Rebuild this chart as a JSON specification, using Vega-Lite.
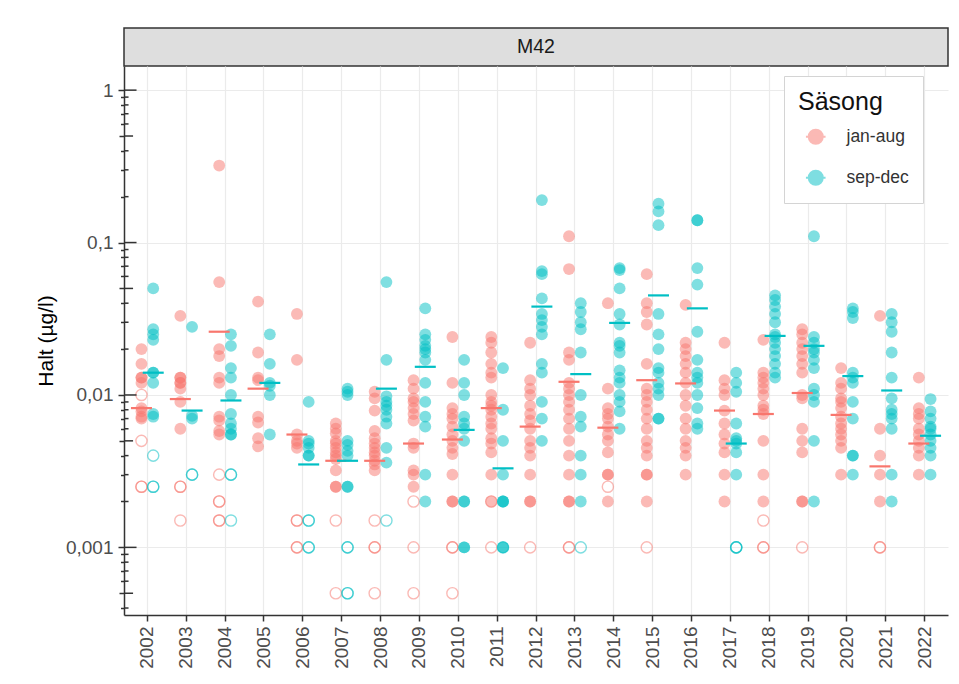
{
"$schema": "https://vega.github.io/schema/vega-lite/v6.json",
"padding": {"left": 35, "top": 27, "right": 5, "bottom": 5},
"background": "white",
"bounds": "flush",
"spacing": 0,
"config": {"font": "Liberation Sans", "view": {"stroke": null}},
"datasets": {
"lt": [
{"t":0.0004,"k":"minor"},{"t":0.0006,"k":"minor"},{"t":0.0007,"k":"minor"},{"t":0.0008,"k":"minor"},{"t":0.0009,"k":"minor"},
{"t":0.002,"k":"minor"},{"t":0.003,"k":"minor"},{"t":0.004,"k":"minor"},{"t":0.006,"k":"minor"},{"t":0.007,"k":"minor"},{"t":0.008,"k":"minor"},{"t":0.009,"k":"minor"},
{"t":0.02,"k":"minor"},{"t":0.03,"k":"minor"},{"t":0.04,"k":"minor"},{"t":0.06,"k":"minor"},{"t":0.07,"k":"minor"},{"t":0.08,"k":"minor"},{"t":0.09,"k":"minor"},
{"t":0.2,"k":"minor"},{"t":0.3,"k":"minor"},{"t":0.4,"k":"minor"},{"t":0.6,"k":"minor"},{"t":0.7,"k":"minor"},{"t":0.8,"k":"minor"},{"t":0.9,"k":"minor"},
{"t":0.0005,"k":"mid"},{"t":0.005,"k":"mid"},{"t":0.05,"k":"mid"},{"t":0.5,"k":"mid"},
{"t":0.001,"k":"major"},{"t":0.01,"k":"major"},{"t":0.1,"k":"major"},{"t":1,"k":"major"}
],
"pts": [
{"ar":2002,"s":"jan-aug","v":0.02,"u":0},{"ar":2002,"s":"jan-aug","v":0.016,"u":0},{"ar":2002,"s":"jan-aug","v":0.013,"u":0},{"ar":2002,"s":"jan-aug","v":0.013,"u":0},{"ar":2002,"s":"jan-aug","v":0.012,"u":0},{"ar":2002,"s":"jan-aug","v":0.0082,"u":0},{"ar":2002,"s":"jan-aug","v":0.0078,"u":0},{"ar":2002,"s":"jan-aug","v":0.0072,"u":0},{"ar":2002,"s":"jan-aug","v":0.007,"u":0},
{"ar":2002,"s":"jan-aug","v":0.01,"u":1},{"ar":2002,"s":"jan-aug","v":0.005,"u":1},{"ar":2002,"s":"jan-aug","v":0.0025,"u":1},{"ar":2002,"s":"jan-aug","v":0.0025,"u":1},
{"ar":2002,"s":"sep-dec","v":0.05,"u":0},{"ar":2002,"s":"sep-dec","v":0.027,"u":0},{"ar":2002,"s":"sep-dec","v":0.025,"u":0},{"ar":2002,"s":"sep-dec","v":0.023,"u":0},{"ar":2002,"s":"sep-dec","v":0.014,"u":0},{"ar":2002,"s":"sep-dec","v":0.014,"u":0},{"ar":2002,"s":"sep-dec","v":0.012,"u":0},{"ar":2002,"s":"sep-dec","v":0.0075,"u":0},{"ar":2002,"s":"sep-dec","v":0.0072,"u":0},
{"ar":2002,"s":"sep-dec","v":0.004,"u":1},{"ar":2002,"s":"sep-dec","v":0.0025,"u":1},{"ar":2002,"s":"sep-dec","v":0.0025,"u":1},
{"ar":2003,"s":"jan-aug","v":0.033,"u":0},{"ar":2003,"s":"jan-aug","v":0.013,"u":0},{"ar":2003,"s":"jan-aug","v":0.013,"u":0},{"ar":2003,"s":"jan-aug","v":0.012,"u":0},{"ar":2003,"s":"jan-aug","v":0.012,"u":0},{"ar":2003,"s":"jan-aug","v":0.011,"u":0},{"ar":2003,"s":"jan-aug","v":0.009,"u":0},{"ar":2003,"s":"jan-aug","v":0.006,"u":0},
{"ar":2003,"s":"jan-aug","v":0.0025,"u":1},{"ar":2003,"s":"jan-aug","v":0.0025,"u":1},{"ar":2003,"s":"jan-aug","v":0.0015,"u":1},
{"ar":2003,"s":"sep-dec","v":0.028,"u":0},{"ar":2003,"s":"sep-dec","v":0.0073,"u":0},{"ar":2003,"s":"sep-dec","v":0.007,"u":0},
{"ar":2003,"s":"sep-dec","v":0.003,"u":1},{"ar":2003,"s":"sep-dec","v":0.003,"u":1},
{"ar":2004,"s":"jan-aug","v":0.32,"u":0},{"ar":2004,"s":"jan-aug","v":0.055,"u":0},{"ar":2004,"s":"jan-aug","v":0.02,"u":0},{"ar":2004,"s":"jan-aug","v":0.018,"u":0},{"ar":2004,"s":"jan-aug","v":0.013,"u":0},{"ar":2004,"s":"jan-aug","v":0.012,"u":0},{"ar":2004,"s":"jan-aug","v":0.0072,"u":0},{"ar":2004,"s":"jan-aug","v":0.0068,"u":0},{"ar":2004,"s":"jan-aug","v":0.0058,"u":0},{"ar":2004,"s":"jan-aug","v":0.0055,"u":0},
{"ar":2004,"s":"jan-aug","v":0.003,"u":1},{"ar":2004,"s":"jan-aug","v":0.002,"u":1},{"ar":2004,"s":"jan-aug","v":0.002,"u":1},{"ar":2004,"s":"jan-aug","v":0.0015,"u":1},{"ar":2004,"s":"jan-aug","v":0.0015,"u":1},
{"ar":2004,"s":"sep-dec","v":0.025,"u":0},{"ar":2004,"s":"sep-dec","v":0.021,"u":0},{"ar":2004,"s":"sep-dec","v":0.015,"u":0},{"ar":2004,"s":"sep-dec","v":0.013,"u":0},{"ar":2004,"s":"sep-dec","v":0.01,"u":0},{"ar":2004,"s":"sep-dec","v":0.0075,"u":0},{"ar":2004,"s":"sep-dec","v":0.0065,"u":0},{"ar":2004,"s":"sep-dec","v":0.006,"u":0},{"ar":2004,"s":"sep-dec","v":0.0055,"u":0},{"ar":2004,"s":"sep-dec","v":0.0055,"u":0},
{"ar":2004,"s":"sep-dec","v":0.003,"u":1},{"ar":2004,"s":"sep-dec","v":0.003,"u":1},{"ar":2004,"s":"sep-dec","v":0.0015,"u":1},
{"ar":2005,"s":"jan-aug","v":0.041,"u":0},{"ar":2005,"s":"jan-aug","v":0.019,"u":0},{"ar":2005,"s":"jan-aug","v":0.013,"u":0},{"ar":2005,"s":"jan-aug","v":0.0125,"u":0},{"ar":2005,"s":"jan-aug","v":0.0072,"u":0},{"ar":2005,"s":"jan-aug","v":0.0066,"u":0},{"ar":2005,"s":"jan-aug","v":0.0052,"u":0},{"ar":2005,"s":"jan-aug","v":0.0046,"u":0},
{"ar":2005,"s":"sep-dec","v":0.025,"u":0},{"ar":2005,"s":"sep-dec","v":0.016,"u":0},{"ar":2005,"s":"sep-dec","v":0.012,"u":0},{"ar":2005,"s":"sep-dec","v":0.0115,"u":0},{"ar":2005,"s":"sep-dec","v":0.01,"u":0},{"ar":2005,"s":"sep-dec","v":0.0055,"u":0},
{"ar":2006,"s":"jan-aug","v":0.034,"u":0},{"ar":2006,"s":"jan-aug","v":0.017,"u":0},{"ar":2006,"s":"jan-aug","v":0.0055,"u":0},{"ar":2006,"s":"jan-aug","v":0.005,"u":0},{"ar":2006,"s":"jan-aug","v":0.0048,"u":0},{"ar":2006,"s":"jan-aug","v":0.0045,"u":0},
{"ar":2006,"s":"jan-aug","v":0.0015,"u":1},{"ar":2006,"s":"jan-aug","v":0.0015,"u":1},{"ar":2006,"s":"jan-aug","v":0.001,"u":1},{"ar":2006,"s":"jan-aug","v":0.001,"u":1},
{"ar":2006,"s":"sep-dec","v":0.009,"u":0},{"ar":2006,"s":"sep-dec","v":0.005,"u":0},{"ar":2006,"s":"sep-dec","v":0.0048,"u":0},{"ar":2006,"s":"sep-dec","v":0.0045,"u":0},{"ar":2006,"s":"sep-dec","v":0.004,"u":0},{"ar":2006,"s":"sep-dec","v":0.004,"u":0},
{"ar":2006,"s":"sep-dec","v":0.0015,"u":1},{"ar":2006,"s":"sep-dec","v":0.0015,"u":1},{"ar":2006,"s":"sep-dec","v":0.001,"u":1},{"ar":2006,"s":"sep-dec","v":0.001,"u":1},
{"ar":2007,"s":"jan-aug","v":0.0065,"u":0},{"ar":2007,"s":"jan-aug","v":0.006,"u":0},{"ar":2007,"s":"jan-aug","v":0.0056,"u":0},{"ar":2007,"s":"jan-aug","v":0.005,"u":0},{"ar":2007,"s":"jan-aug","v":0.0048,"u":0},{"ar":2007,"s":"jan-aug","v":0.0045,"u":0},{"ar":2007,"s":"jan-aug","v":0.0042,"u":0},{"ar":2007,"s":"jan-aug","v":0.004,"u":0},{"ar":2007,"s":"jan-aug","v":0.0038,"u":0},{"ar":2007,"s":"jan-aug","v":0.0032,"u":0},{"ar":2007,"s":"jan-aug","v":0.0025,"u":0},{"ar":2007,"s":"jan-aug","v":0.0025,"u":0},
{"ar":2007,"s":"jan-aug","v":0.0015,"u":1},{"ar":2007,"s":"jan-aug","v":0.0005,"u":1},
{"ar":2007,"s":"sep-dec","v":0.011,"u":0},{"ar":2007,"s":"sep-dec","v":0.0105,"u":0},{"ar":2007,"s":"sep-dec","v":0.01,"u":0},{"ar":2007,"s":"sep-dec","v":0.005,"u":0},{"ar":2007,"s":"sep-dec","v":0.0047,"u":0},{"ar":2007,"s":"sep-dec","v":0.0043,"u":0},{"ar":2007,"s":"sep-dec","v":0.004,"u":0},{"ar":2007,"s":"sep-dec","v":0.0025,"u":0},{"ar":2007,"s":"sep-dec","v":0.0025,"u":0},
{"ar":2007,"s":"sep-dec","v":0.001,"u":1},{"ar":2007,"s":"sep-dec","v":0.001,"u":1},{"ar":2007,"s":"sep-dec","v":0.0005,"u":1},{"ar":2007,"s":"sep-dec","v":0.0005,"u":1},
{"ar":2008,"s":"jan-aug","v":0.0105,"u":0},{"ar":2008,"s":"jan-aug","v":0.0095,"u":0},{"ar":2008,"s":"jan-aug","v":0.0079,"u":0},{"ar":2008,"s":"jan-aug","v":0.0058,"u":0},{"ar":2008,"s":"jan-aug","v":0.0052,"u":0},{"ar":2008,"s":"jan-aug","v":0.0048,"u":0},{"ar":2008,"s":"jan-aug","v":0.0045,"u":0},{"ar":2008,"s":"jan-aug","v":0.0042,"u":0},{"ar":2008,"s":"jan-aug","v":0.004,"u":0},{"ar":2008,"s":"jan-aug","v":0.0037,"u":0},{"ar":2008,"s":"jan-aug","v":0.0035,"u":0},{"ar":2008,"s":"jan-aug","v":0.0032,"u":0},
{"ar":2008,"s":"jan-aug","v":0.0015,"u":1},{"ar":2008,"s":"jan-aug","v":0.001,"u":1},{"ar":2008,"s":"jan-aug","v":0.001,"u":1},{"ar":2008,"s":"jan-aug","v":0.0005,"u":1},
{"ar":2008,"s":"sep-dec","v":0.055,"u":0},{"ar":2008,"s":"sep-dec","v":0.017,"u":0},{"ar":2008,"s":"sep-dec","v":0.0098,"u":0},{"ar":2008,"s":"sep-dec","v":0.009,"u":0},{"ar":2008,"s":"sep-dec","v":0.0085,"u":0},{"ar":2008,"s":"sep-dec","v":0.008,"u":0},{"ar":2008,"s":"sep-dec","v":0.0072,"u":0},{"ar":2008,"s":"sep-dec","v":0.0065,"u":0},{"ar":2008,"s":"sep-dec","v":0.0045,"u":0},{"ar":2008,"s":"sep-dec","v":0.0036,"u":0},
{"ar":2008,"s":"sep-dec","v":0.0015,"u":1},
{"ar":2009,"s":"jan-aug","v":0.0125,"u":0},{"ar":2009,"s":"jan-aug","v":0.011,"u":0},{"ar":2009,"s":"jan-aug","v":0.0095,"u":0},{"ar":2009,"s":"jan-aug","v":0.009,"u":0},{"ar":2009,"s":"jan-aug","v":0.0082,"u":0},{"ar":2009,"s":"jan-aug","v":0.0075,"u":0},{"ar":2009,"s":"jan-aug","v":0.0068,"u":0},{"ar":2009,"s":"jan-aug","v":0.0048,"u":0},{"ar":2009,"s":"jan-aug","v":0.0045,"u":0},{"ar":2009,"s":"jan-aug","v":0.0032,"u":0},{"ar":2009,"s":"jan-aug","v":0.003,"u":0},{"ar":2009,"s":"jan-aug","v":0.0025,"u":0},
{"ar":2009,"s":"jan-aug","v":0.002,"u":1},{"ar":2009,"s":"jan-aug","v":0.001,"u":1},{"ar":2009,"s":"jan-aug","v":0.0005,"u":1},
{"ar":2009,"s":"sep-dec","v":0.037,"u":0},{"ar":2009,"s":"sep-dec","v":0.025,"u":0},{"ar":2009,"s":"sep-dec","v":0.023,"u":0},{"ar":2009,"s":"sep-dec","v":0.021,"u":0},{"ar":2009,"s":"sep-dec","v":0.02,"u":0},{"ar":2009,"s":"sep-dec","v":0.019,"u":0},{"ar":2009,"s":"sep-dec","v":0.017,"u":0},{"ar":2009,"s":"sep-dec","v":0.012,"u":0},{"ar":2009,"s":"sep-dec","v":0.009,"u":0},{"ar":2009,"s":"sep-dec","v":0.0072,"u":0},{"ar":2009,"s":"sep-dec","v":0.0062,"u":0},{"ar":2009,"s":"sep-dec","v":0.003,"u":0},{"ar":2009,"s":"sep-dec","v":0.002,"u":0},
{"ar":2010,"s":"jan-aug","v":0.024,"u":0},{"ar":2010,"s":"jan-aug","v":0.012,"u":0},{"ar":2010,"s":"jan-aug","v":0.0082,"u":0},{"ar":2010,"s":"jan-aug","v":0.0075,"u":0},{"ar":2010,"s":"jan-aug","v":0.007,"u":0},{"ar":2010,"s":"jan-aug","v":0.0062,"u":0},{"ar":2010,"s":"jan-aug","v":0.0055,"u":0},{"ar":2010,"s":"jan-aug","v":0.005,"u":0},{"ar":2010,"s":"jan-aug","v":0.0045,"u":0},{"ar":2010,"s":"jan-aug","v":0.0041,"u":0},{"ar":2010,"s":"jan-aug","v":0.003,"u":0},{"ar":2010,"s":"jan-aug","v":0.002,"u":0},{"ar":2010,"s":"jan-aug","v":0.002,"u":0},
{"ar":2010,"s":"jan-aug","v":0.001,"u":1},{"ar":2010,"s":"jan-aug","v":0.001,"u":1},{"ar":2010,"s":"jan-aug","v":0.0005,"u":1},
{"ar":2010,"s":"sep-dec","v":0.017,"u":0},{"ar":2010,"s":"sep-dec","v":0.012,"u":0},{"ar":2010,"s":"sep-dec","v":0.01,"u":0},{"ar":2010,"s":"sep-dec","v":0.0072,"u":0},{"ar":2010,"s":"sep-dec","v":0.0065,"u":0},{"ar":2010,"s":"sep-dec","v":0.006,"u":0},{"ar":2010,"s":"sep-dec","v":0.005,"u":0},{"ar":2010,"s":"sep-dec","v":0.002,"u":0},{"ar":2010,"s":"sep-dec","v":0.002,"u":0},{"ar":2010,"s":"sep-dec","v":0.001,"u":0},{"ar":2010,"s":"sep-dec","v":0.001,"u":0},
{"ar":2011,"s":"jan-aug","v":0.024,"u":0},{"ar":2011,"s":"jan-aug","v":0.022,"u":0},{"ar":2011,"s":"jan-aug","v":0.019,"u":0},{"ar":2011,"s":"jan-aug","v":0.016,"u":0},{"ar":2011,"s":"jan-aug","v":0.014,"u":0},{"ar":2011,"s":"jan-aug","v":0.013,"u":0},{"ar":2011,"s":"jan-aug","v":0.01,"u":0},{"ar":2011,"s":"jan-aug","v":0.009,"u":0},{"ar":2011,"s":"jan-aug","v":0.0085,"u":0},{"ar":2011,"s":"jan-aug","v":0.008,"u":0},{"ar":2011,"s":"jan-aug","v":0.0072,"u":0},{"ar":2011,"s":"jan-aug","v":0.0065,"u":0},{"ar":2011,"s":"jan-aug","v":0.006,"u":0},{"ar":2011,"s":"jan-aug","v":0.0052,"u":0},{"ar":2011,"s":"jan-aug","v":0.0048,"u":0},{"ar":2011,"s":"jan-aug","v":0.0042,"u":0},{"ar":2011,"s":"jan-aug","v":0.003,"u":0},{"ar":2011,"s":"jan-aug","v":0.002,"u":0},
{"ar":2011,"s":"jan-aug","v":0.002,"u":1},{"ar":2011,"s":"jan-aug","v":0.001,"u":1},
{"ar":2011,"s":"sep-dec","v":0.015,"u":0},{"ar":2011,"s":"sep-dec","v":0.008,"u":0},{"ar":2011,"s":"sep-dec","v":0.005,"u":0},{"ar":2011,"s":"sep-dec","v":0.003,"u":0},{"ar":2011,"s":"sep-dec","v":0.002,"u":0},{"ar":2011,"s":"sep-dec","v":0.002,"u":0},{"ar":2011,"s":"sep-dec","v":0.002,"u":0},{"ar":2011,"s":"sep-dec","v":0.001,"u":0},{"ar":2011,"s":"sep-dec","v":0.001,"u":0},
{"ar":2011,"s":"sep-dec","v":0.001,"u":1},
{"ar":2012,"s":"jan-aug","v":0.022,"u":0},{"ar":2012,"s":"jan-aug","v":0.0125,"u":0},{"ar":2012,"s":"jan-aug","v":0.011,"u":0},{"ar":2012,"s":"jan-aug","v":0.01,"u":0},{"ar":2012,"s":"jan-aug","v":0.0085,"u":0},{"ar":2012,"s":"jan-aug","v":0.0075,"u":0},{"ar":2012,"s":"jan-aug","v":0.0068,"u":0},{"ar":2012,"s":"jan-aug","v":0.006,"u":0},{"ar":2012,"s":"jan-aug","v":0.005,"u":0},{"ar":2012,"s":"jan-aug","v":0.0045,"u":0},{"ar":2012,"s":"jan-aug","v":0.004,"u":0},{"ar":2012,"s":"jan-aug","v":0.003,"u":0},{"ar":2012,"s":"jan-aug","v":0.002,"u":0},{"ar":2012,"s":"jan-aug","v":0.002,"u":0},
{"ar":2012,"s":"jan-aug","v":0.001,"u":1},
{"ar":2012,"s":"sep-dec","v":0.19,"u":0},{"ar":2012,"s":"sep-dec","v":0.065,"u":0},{"ar":2012,"s":"sep-dec","v":0.062,"u":0},{"ar":2012,"s":"sep-dec","v":0.043,"u":0},{"ar":2012,"s":"sep-dec","v":0.034,"u":0},{"ar":2012,"s":"sep-dec","v":0.031,"u":0},{"ar":2012,"s":"sep-dec","v":0.028,"u":0},{"ar":2012,"s":"sep-dec","v":0.025,"u":0},{"ar":2012,"s":"sep-dec","v":0.016,"u":0},{"ar":2012,"s":"sep-dec","v":0.014,"u":0},{"ar":2012,"s":"sep-dec","v":0.009,"u":0},{"ar":2012,"s":"sep-dec","v":0.007,"u":0},{"ar":2012,"s":"sep-dec","v":0.005,"u":0},
{"ar":2013,"s":"jan-aug","v":0.11,"u":0},{"ar":2013,"s":"jan-aug","v":0.067,"u":0},{"ar":2013,"s":"jan-aug","v":0.019,"u":0},{"ar":2013,"s":"jan-aug","v":0.017,"u":0},{"ar":2013,"s":"jan-aug","v":0.012,"u":0},{"ar":2013,"s":"jan-aug","v":0.011,"u":0},{"ar":2013,"s":"jan-aug","v":0.01,"u":0},{"ar":2013,"s":"jan-aug","v":0.009,"u":0},{"ar":2013,"s":"jan-aug","v":0.008,"u":0},{"ar":2013,"s":"jan-aug","v":0.007,"u":0},{"ar":2013,"s":"jan-aug","v":0.006,"u":0},{"ar":2013,"s":"jan-aug","v":0.005,"u":0},{"ar":2013,"s":"jan-aug","v":0.004,"u":0},{"ar":2013,"s":"jan-aug","v":0.003,"u":0},{"ar":2013,"s":"jan-aug","v":0.002,"u":0},{"ar":2013,"s":"jan-aug","v":0.002,"u":0},
{"ar":2013,"s":"jan-aug","v":0.001,"u":1},{"ar":2013,"s":"jan-aug","v":0.001,"u":1},
{"ar":2013,"s":"sep-dec","v":0.04,"u":0},{"ar":2013,"s":"sep-dec","v":0.035,"u":0},{"ar":2013,"s":"sep-dec","v":0.03,"u":0},{"ar":2013,"s":"sep-dec","v":0.027,"u":0},{"ar":2013,"s":"sep-dec","v":0.019,"u":0},{"ar":2013,"s":"sep-dec","v":0.01,"u":0},{"ar":2013,"s":"sep-dec","v":0.0072,"u":0},{"ar":2013,"s":"sep-dec","v":0.0062,"u":0},{"ar":2013,"s":"sep-dec","v":0.004,"u":0},{"ar":2013,"s":"sep-dec","v":0.003,"u":0},{"ar":2013,"s":"sep-dec","v":0.002,"u":0},
{"ar":2013,"s":"sep-dec","v":0.001,"u":1},
{"ar":2014,"s":"jan-aug","v":0.04,"u":0},{"ar":2014,"s":"jan-aug","v":0.011,"u":0},{"ar":2014,"s":"jan-aug","v":0.0082,"u":0},{"ar":2014,"s":"jan-aug","v":0.0075,"u":0},{"ar":2014,"s":"jan-aug","v":0.007,"u":0},{"ar":2014,"s":"jan-aug","v":0.0062,"u":0},{"ar":2014,"s":"jan-aug","v":0.0055,"u":0},{"ar":2014,"s":"jan-aug","v":0.005,"u":0},{"ar":2014,"s":"jan-aug","v":0.0042,"u":0},{"ar":2014,"s":"jan-aug","v":0.003,"u":0},{"ar":2014,"s":"jan-aug","v":0.003,"u":0},{"ar":2014,"s":"jan-aug","v":0.002,"u":0},
{"ar":2014,"s":"jan-aug","v":0.0025,"u":1},
{"ar":2014,"s":"sep-dec","v":0.068,"u":0},{"ar":2014,"s":"sep-dec","v":0.066,"u":0},{"ar":2014,"s":"sep-dec","v":0.05,"u":0},{"ar":2014,"s":"sep-dec","v":0.034,"u":0},{"ar":2014,"s":"sep-dec","v":0.029,"u":0},{"ar":2014,"s":"sep-dec","v":0.022,"u":0},{"ar":2014,"s":"sep-dec","v":0.021,"u":0},{"ar":2014,"s":"sep-dec","v":0.019,"u":0},{"ar":2014,"s":"sep-dec","v":0.0145,"u":0},{"ar":2014,"s":"sep-dec","v":0.013,"u":0},{"ar":2014,"s":"sep-dec","v":0.012,"u":0},{"ar":2014,"s":"sep-dec","v":0.01,"u":0},{"ar":2014,"s":"sep-dec","v":0.009,"u":0},{"ar":2014,"s":"sep-dec","v":0.0078,"u":0},{"ar":2014,"s":"sep-dec","v":0.006,"u":0},
{"ar":2015,"s":"jan-aug","v":0.062,"u":0},{"ar":2015,"s":"jan-aug","v":0.04,"u":0},{"ar":2015,"s":"jan-aug","v":0.035,"u":0},{"ar":2015,"s":"jan-aug","v":0.029,"u":0},{"ar":2015,"s":"jan-aug","v":0.016,"u":0},{"ar":2015,"s":"jan-aug","v":0.011,"u":0},{"ar":2015,"s":"jan-aug","v":0.01,"u":0},{"ar":2015,"s":"jan-aug","v":0.009,"u":0},{"ar":2015,"s":"jan-aug","v":0.008,"u":0},{"ar":2015,"s":"jan-aug","v":0.007,"u":0},{"ar":2015,"s":"jan-aug","v":0.006,"u":0},{"ar":2015,"s":"jan-aug","v":0.005,"u":0},{"ar":2015,"s":"jan-aug","v":0.0045,"u":0},{"ar":2015,"s":"jan-aug","v":0.004,"u":0},{"ar":2015,"s":"jan-aug","v":0.003,"u":0},{"ar":2015,"s":"jan-aug","v":0.003,"u":0},{"ar":2015,"s":"jan-aug","v":0.002,"u":0},
{"ar":2015,"s":"jan-aug","v":0.001,"u":1},
{"ar":2015,"s":"sep-dec","v":0.18,"u":0},{"ar":2015,"s":"sep-dec","v":0.16,"u":0},{"ar":2015,"s":"sep-dec","v":0.13,"u":0},{"ar":2015,"s":"sep-dec","v":0.034,"u":0},{"ar":2015,"s":"sep-dec","v":0.025,"u":0},{"ar":2015,"s":"sep-dec","v":0.02,"u":0},{"ar":2015,"s":"sep-dec","v":0.015,"u":0},{"ar":2015,"s":"sep-dec","v":0.014,"u":0},{"ar":2015,"s":"sep-dec","v":0.012,"u":0},{"ar":2015,"s":"sep-dec","v":0.011,"u":0},{"ar":2015,"s":"sep-dec","v":0.01,"u":0},{"ar":2015,"s":"sep-dec","v":0.007,"u":0},{"ar":2015,"s":"sep-dec","v":0.007,"u":0},
{"ar":2016,"s":"jan-aug","v":0.039,"u":0},{"ar":2016,"s":"jan-aug","v":0.022,"u":0},{"ar":2016,"s":"jan-aug","v":0.02,"u":0},{"ar":2016,"s":"jan-aug","v":0.018,"u":0},{"ar":2016,"s":"jan-aug","v":0.016,"u":0},{"ar":2016,"s":"jan-aug","v":0.014,"u":0},{"ar":2016,"s":"jan-aug","v":0.012,"u":0},{"ar":2016,"s":"jan-aug","v":0.01,"u":0},{"ar":2016,"s":"jan-aug","v":0.0085,"u":0},{"ar":2016,"s":"jan-aug","v":0.007,"u":0},{"ar":2016,"s":"jan-aug","v":0.006,"u":0},{"ar":2016,"s":"jan-aug","v":0.005,"u":0},{"ar":2016,"s":"jan-aug","v":0.0045,"u":0},{"ar":2016,"s":"jan-aug","v":0.004,"u":0},{"ar":2016,"s":"jan-aug","v":0.003,"u":0},
{"ar":2016,"s":"sep-dec","v":0.14,"u":0},{"ar":2016,"s":"sep-dec","v":0.14,"u":0},{"ar":2016,"s":"sep-dec","v":0.068,"u":0},{"ar":2016,"s":"sep-dec","v":0.053,"u":0},{"ar":2016,"s":"sep-dec","v":0.026,"u":0},{"ar":2016,"s":"sep-dec","v":0.017,"u":0},{"ar":2016,"s":"sep-dec","v":0.014,"u":0},{"ar":2016,"s":"sep-dec","v":0.013,"u":0},{"ar":2016,"s":"sep-dec","v":0.012,"u":0},{"ar":2016,"s":"sep-dec","v":0.01,"u":0},{"ar":2016,"s":"sep-dec","v":0.0082,"u":0},{"ar":2016,"s":"sep-dec","v":0.0065,"u":0},{"ar":2016,"s":"sep-dec","v":0.006,"u":0},
{"ar":2017,"s":"jan-aug","v":0.022,"u":0},{"ar":2017,"s":"jan-aug","v":0.0125,"u":0},{"ar":2017,"s":"jan-aug","v":0.011,"u":0},{"ar":2017,"s":"jan-aug","v":0.01,"u":0},{"ar":2017,"s":"jan-aug","v":0.0079,"u":0},{"ar":2017,"s":"jan-aug","v":0.0065,"u":0},{"ar":2017,"s":"jan-aug","v":0.0055,"u":0},{"ar":2017,"s":"jan-aug","v":0.0048,"u":0},{"ar":2017,"s":"jan-aug","v":0.0042,"u":0},{"ar":2017,"s":"jan-aug","v":0.003,"u":0},{"ar":2017,"s":"jan-aug","v":0.002,"u":0},
{"ar":2017,"s":"sep-dec","v":0.014,"u":0},{"ar":2017,"s":"sep-dec","v":0.012,"u":0},{"ar":2017,"s":"sep-dec","v":0.0105,"u":0},{"ar":2017,"s":"sep-dec","v":0.0065,"u":0},{"ar":2017,"s":"sep-dec","v":0.0052,"u":0},{"ar":2017,"s":"sep-dec","v":0.005,"u":0},{"ar":2017,"s":"sep-dec","v":0.0048,"u":0},{"ar":2017,"s":"sep-dec","v":0.0042,"u":0},{"ar":2017,"s":"sep-dec","v":0.003,"u":0},
{"ar":2017,"s":"sep-dec","v":0.001,"u":1},{"ar":2017,"s":"sep-dec","v":0.001,"u":1},{"ar":2017,"s":"sep-dec","v":0.001,"u":1},
{"ar":2018,"s":"jan-aug","v":0.023,"u":0},{"ar":2018,"s":"jan-aug","v":0.014,"u":0},{"ar":2018,"s":"jan-aug","v":0.013,"u":0},{"ar":2018,"s":"jan-aug","v":0.012,"u":0},{"ar":2018,"s":"jan-aug","v":0.011,"u":0},{"ar":2018,"s":"jan-aug","v":0.01,"u":0},{"ar":2018,"s":"jan-aug","v":0.0085,"u":0},{"ar":2018,"s":"jan-aug","v":0.008,"u":0},{"ar":2018,"s":"jan-aug","v":0.0075,"u":0},{"ar":2018,"s":"jan-aug","v":0.005,"u":0},{"ar":2018,"s":"jan-aug","v":0.003,"u":0},{"ar":2018,"s":"jan-aug","v":0.002,"u":0},
{"ar":2018,"s":"jan-aug","v":0.0015,"u":1},{"ar":2018,"s":"jan-aug","v":0.001,"u":1},{"ar":2018,"s":"jan-aug","v":0.001,"u":1},
{"ar":2018,"s":"sep-dec","v":0.045,"u":0},{"ar":2018,"s":"sep-dec","v":0.042,"u":0},{"ar":2018,"s":"sep-dec","v":0.038,"u":0},{"ar":2018,"s":"sep-dec","v":0.034,"u":0},{"ar":2018,"s":"sep-dec","v":0.03,"u":0},{"ar":2018,"s":"sep-dec","v":0.025,"u":0},{"ar":2018,"s":"sep-dec","v":0.024,"u":0},{"ar":2018,"s":"sep-dec","v":0.022,"u":0},{"ar":2018,"s":"sep-dec","v":0.02,"u":0},{"ar":2018,"s":"sep-dec","v":0.018,"u":0},{"ar":2018,"s":"sep-dec","v":0.016,"u":0},{"ar":2018,"s":"sep-dec","v":0.014,"u":0},{"ar":2018,"s":"sep-dec","v":0.013,"u":0},
{"ar":2019,"s":"jan-aug","v":0.027,"u":0},{"ar":2019,"s":"jan-aug","v":0.025,"u":0},{"ar":2019,"s":"jan-aug","v":0.022,"u":0},{"ar":2019,"s":"jan-aug","v":0.02,"u":0},{"ar":2019,"s":"jan-aug","v":0.018,"u":0},{"ar":2019,"s":"jan-aug","v":0.016,"u":0},{"ar":2019,"s":"jan-aug","v":0.014,"u":0},{"ar":2019,"s":"jan-aug","v":0.01,"u":0},{"ar":2019,"s":"jan-aug","v":0.0095,"u":0},{"ar":2019,"s":"jan-aug","v":0.006,"u":0},{"ar":2019,"s":"jan-aug","v":0.005,"u":0},{"ar":2019,"s":"jan-aug","v":0.0042,"u":0},{"ar":2019,"s":"jan-aug","v":0.002,"u":0},{"ar":2019,"s":"jan-aug","v":0.002,"u":0},
{"ar":2019,"s":"jan-aug","v":0.001,"u":1},
{"ar":2019,"s":"sep-dec","v":0.11,"u":0},{"ar":2019,"s":"sep-dec","v":0.024,"u":0},{"ar":2019,"s":"sep-dec","v":0.022,"u":0},{"ar":2019,"s":"sep-dec","v":0.02,"u":0},{"ar":2019,"s":"sep-dec","v":0.019,"u":0},{"ar":2019,"s":"sep-dec","v":0.017,"u":0},{"ar":2019,"s":"sep-dec","v":0.015,"u":0},{"ar":2019,"s":"sep-dec","v":0.011,"u":0},{"ar":2019,"s":"sep-dec","v":0.01,"u":0},{"ar":2019,"s":"sep-dec","v":0.009,"u":0},{"ar":2019,"s":"sep-dec","v":0.005,"u":0},{"ar":2019,"s":"sep-dec","v":0.002,"u":0},
{"ar":2020,"s":"jan-aug","v":0.015,"u":0},{"ar":2020,"s":"jan-aug","v":0.012,"u":0},{"ar":2020,"s":"jan-aug","v":0.011,"u":0},{"ar":2020,"s":"jan-aug","v":0.0095,"u":0},{"ar":2020,"s":"jan-aug","v":0.009,"u":0},{"ar":2020,"s":"jan-aug","v":0.0082,"u":0},{"ar":2020,"s":"jan-aug","v":0.0072,"u":0},{"ar":2020,"s":"jan-aug","v":0.0065,"u":0},{"ar":2020,"s":"jan-aug","v":0.006,"u":0},{"ar":2020,"s":"jan-aug","v":0.0055,"u":0},{"ar":2020,"s":"jan-aug","v":0.005,"u":0},{"ar":2020,"s":"jan-aug","v":0.0045,"u":0},{"ar":2020,"s":"jan-aug","v":0.003,"u":0},
{"ar":2020,"s":"sep-dec","v":0.037,"u":0},{"ar":2020,"s":"sep-dec","v":0.035,"u":0},{"ar":2020,"s":"sep-dec","v":0.032,"u":0},{"ar":2020,"s":"sep-dec","v":0.014,"u":0},{"ar":2020,"s":"sep-dec","v":0.013,"u":0},{"ar":2020,"s":"sep-dec","v":0.012,"u":0},{"ar":2020,"s":"sep-dec","v":0.009,"u":0},{"ar":2020,"s":"sep-dec","v":0.007,"u":0},{"ar":2020,"s":"sep-dec","v":0.004,"u":0},{"ar":2020,"s":"sep-dec","v":0.004,"u":0},{"ar":2020,"s":"sep-dec","v":0.003,"u":0},
{"ar":2021,"s":"jan-aug","v":0.033,"u":0},{"ar":2021,"s":"jan-aug","v":0.006,"u":0},{"ar":2021,"s":"jan-aug","v":0.004,"u":0},{"ar":2021,"s":"jan-aug","v":0.003,"u":0},{"ar":2021,"s":"jan-aug","v":0.002,"u":0},
{"ar":2021,"s":"jan-aug","v":0.001,"u":1},{"ar":2021,"s":"jan-aug","v":0.001,"u":1},
{"ar":2021,"s":"sep-dec","v":0.034,"u":0},{"ar":2021,"s":"sep-dec","v":0.03,"u":0},{"ar":2021,"s":"sep-dec","v":0.026,"u":0},{"ar":2021,"s":"sep-dec","v":0.019,"u":0},{"ar":2021,"s":"sep-dec","v":0.013,"u":0},{"ar":2021,"s":"sep-dec","v":0.0095,"u":0},{"ar":2021,"s":"sep-dec","v":0.008,"u":0},{"ar":2021,"s":"sep-dec","v":0.0075,"u":0},{"ar":2021,"s":"sep-dec","v":0.007,"u":0},{"ar":2021,"s":"sep-dec","v":0.006,"u":0},{"ar":2021,"s":"sep-dec","v":0.003,"u":0},{"ar":2021,"s":"sep-dec","v":0.002,"u":0},
{"ar":2022,"s":"jan-aug","v":0.013,"u":0},{"ar":2022,"s":"jan-aug","v":0.0082,"u":0},{"ar":2022,"s":"jan-aug","v":0.0075,"u":0},{"ar":2022,"s":"jan-aug","v":0.007,"u":0},{"ar":2022,"s":"jan-aug","v":0.006,"u":0},{"ar":2022,"s":"jan-aug","v":0.0055,"u":0},{"ar":2022,"s":"jan-aug","v":0.005,"u":0},{"ar":2022,"s":"jan-aug","v":0.0045,"u":0},{"ar":2022,"s":"jan-aug","v":0.004,"u":0},{"ar":2022,"s":"jan-aug","v":0.003,"u":0},
{"ar":2022,"s":"sep-dec","v":0.0094,"u":0},{"ar":2022,"s":"sep-dec","v":0.0078,"u":0},{"ar":2022,"s":"sep-dec","v":0.007,"u":0},{"ar":2022,"s":"sep-dec","v":0.0062,"u":0},{"ar":2022,"s":"sep-dec","v":0.006,"u":0},{"ar":2022,"s":"sep-dec","v":0.0055,"u":0},{"ar":2022,"s":"sep-dec","v":0.005,"u":0},{"ar":2022,"s":"sep-dec","v":0.0045,"u":0},{"ar":2022,"s":"sep-dec","v":0.004,"u":0},{"ar":2022,"s":"sep-dec","v":0.003,"u":0}
],
"med": [
{"ar":2002,"s":"jan-aug","v":0.0082},{"ar":2002,"s":"sep-dec","v":0.014},
{"ar":2003,"s":"jan-aug","v":0.0094},{"ar":2003,"s":"sep-dec","v":0.0079},
{"ar":2004,"s":"jan-aug","v":0.026},{"ar":2004,"s":"sep-dec","v":0.0092},
{"ar":2005,"s":"jan-aug","v":0.011},{"ar":2005,"s":"sep-dec","v":0.012},
{"ar":2006,"s":"jan-aug","v":0.0055},{"ar":2006,"s":"sep-dec","v":0.0035},
{"ar":2007,"s":"jan-aug","v":0.0037},{"ar":2007,"s":"sep-dec","v":0.0037},
{"ar":2008,"s":"jan-aug","v":0.0037},{"ar":2008,"s":"sep-dec","v":0.011},
{"ar":2009,"s":"jan-aug","v":0.0048},{"ar":2009,"s":"sep-dec","v":0.0153},
{"ar":2010,"s":"jan-aug","v":0.0051},{"ar":2010,"s":"sep-dec","v":0.0059},
{"ar":2011,"s":"jan-aug","v":0.0082},{"ar":2011,"s":"sep-dec","v":0.0033},
{"ar":2012,"s":"jan-aug","v":0.0062},{"ar":2012,"s":"sep-dec","v":0.038},
{"ar":2013,"s":"jan-aug","v":0.0122},{"ar":2013,"s":"sep-dec","v":0.0137},
{"ar":2014,"s":"jan-aug","v":0.0061},{"ar":2014,"s":"sep-dec","v":0.0297},
{"ar":2015,"s":"jan-aug","v":0.0125},{"ar":2015,"s":"sep-dec","v":0.045},
{"ar":2016,"s":"jan-aug","v":0.0119},{"ar":2016,"s":"sep-dec","v":0.037},
{"ar":2017,"s":"jan-aug","v":0.0079},{"ar":2017,"s":"sep-dec","v":0.0048},
{"ar":2018,"s":"jan-aug","v":0.0075},{"ar":2018,"s":"sep-dec","v":0.0244},
{"ar":2019,"s":"jan-aug","v":0.0103},{"ar":2019,"s":"sep-dec","v":0.021},
{"ar":2020,"s":"jan-aug","v":0.0074},{"ar":2020,"s":"sep-dec","v":0.0133},
{"ar":2021,"s":"jan-aug","v":0.0034},{"ar":2021,"s":"sep-dec","v":0.0107},
{"ar":2022,"s":"jan-aug","v":0.0048},{"ar":2022,"s":"sep-dec","v":0.0054}
]
},
"vconcat": [
{
"width": 824, "height": 38,
"view": {"fill": "#dedede", "stroke": "#333333", "strokeWidth": 1.5},
"data": {"values": [{"panel": "M42"}]},
"mark": {"type": "text", "fontSize": 19.5, "color": "#1a1a1a", "baseline": "middle", "align": "center"},
"encoding": {"text": {"field": "panel", "type": "nominal"}}
},
{
"width": 824, "height": 549,
"view": {"stroke": null},
"layer": [
{
"encoding": {
"x": {"field": "ar", "type": "ordinal", "scale": {"paddingInner": 0, "paddingOuter": 0.1},
"axis": {"title": null, "labelAngle": -90, "labelAlign": "right", "labelBaseline": "middle", "labelFontSize": 19, "labelColor": "#4d4d4d", "labelPadding": 5, "tickSize": 6, "tickColor": "#333333", "tickWidth": 1.5, "domainColor": "#333333", "domainWidth": 1.5, "grid": true, "gridColor": "#ebebeb", "gridWidth": 1.2}},
"xOffset": {"field": "s", "type": "nominal", "scale": {"domain": ["jan-aug", "sep-dec"], "range": [7.7, 31.2], "paddingInner": 0, "paddingOuter": 0}},
"y": {"field": "v", "type": "quantitative", "scale": {"type": "log", "domain": [0.00036, 1.44], "nice": false},
"axis": {"orient": "left", "values": [0.001, 0.01, 0.1, 1],
"labelExpr": "replace(format(datum.value, '~g'), '.', ',')",
"tickWidth": 1.5, "tickColor": "#333333", "tickSize": 6,
"domain": true, "domainColor": "#333333", "domainWidth": 1.5,
"grid": true, "gridColor": "#ebebeb", "gridWidth": 1.2,
"labelFontSize": 19, "labelColor": "#4d4d4d", "labelPadding": 5,
"title": "Halt (µg/l)", "titleFontSize": 21, "titleFontWeight": "normal", "titleColor": "#000000", "titlePadding": 9}},
"color": {"field": "s", "type": "nominal", "scale": {"domain": ["jan-aug", "sep-dec"], "range": ["#F8766D", "#00BFC4"]},
"legend": {"title": "Säsong", "orient": "none", "legendX": 660, "legendY": 10, "fillColor": "white", "strokeColor": "#d4d4d4", "padding": 14, "cornerRadius": 0,
"titleFontSize": 25, "titleFontWeight": "normal", "titleColor": "#111111", "titlePadding": 13,
"labelFontSize": 17.5, "labelColor": "#333333", "labelOffset": 22,
"symbolType": "M-1,0A1,1,0,1,1,1,0A1,1,0,1,1,-1,0ZM-1.4,0L1.4,0", "symbolSize": 196, "symbolOffset": 9, "symbolStrokeWidth": 2, "rowPadding": 18}}
},
"layer": [
{
"data": {"name": "pts"},
"transform": [{"filter": "datum.u == 1"}],
"mark": {"type": "point", "filled": false, "size": 125, "strokeWidth": 1.4, "opacity": 0.5}
},
{
"data": {"name": "pts"},
"transform": [{"filter": "datum.u == 0"}],
"mark": {"type": "point", "filled": true, "size": 140, "strokeWidth": 0, "opacity": 0.5}
},
{
"data": {"name": "med"},
"mark": {"type": "tick", "orient": "horizontal", "thickness": 2.2, "size": 21, "opacity": 1}
}
]
},
{
"data": {"name": "lt"},
"transform": [{"filter": "datum.k == 'minor'"}],
"mark": {"type": "rule", "color": "#333333", "strokeWidth": 1.5},
"encoding": {
"y": {"field": "t", "type": "quantitative", "scale": {"type": "log", "domain": [0.00036, 1.44], "nice": false},
"axis": {"orient": "left", "values": [0.0004, 0.0006, 0.0007, 0.0008, 0.0009, 0.002, 0.003, 0.004, 0.006, 0.007, 0.008, 0.009, 0.02, 0.03, 0.04, 0.06, 0.07, 0.08, 0.09, 0.2, 0.3, 0.4, 0.6, 0.7, 0.8, 0.9], "tickCount": 40, "tickSize": 3.5, "tickWidth": 1.5, "tickColor": "#333333", "labels": false, "domain": false, "grid": false, "title": null}},
"x": {"datum": 0, "type": "quantitative", "scale": {"domain": [0, 100]}, "axis": null},
"x2": {"datum": 0.55}}
},
{
"data": {"name": "lt"},
"transform": [{"filter": "datum.k == 'mid'"}],
"mark": {"type": "rule", "color": "#333333", "strokeWidth": 1.5},
"encoding": {
"y": {"field": "t", "type": "quantitative", "scale": {"type": "log", "domain": [0.00036, 1.44], "nice": false},
"axis": {"orient": "left", "values": [0.0005, 0.005, 0.05, 0.5], "tickSize": 5, "tickWidth": 1.5, "tickColor": "#333333", "labels": false, "domain": false, "grid": false, "title": null}},
"x": {"datum": 0, "type": "quantitative", "scale": {"domain": [0, 100]}, "axis": null},
"x2": {"datum": 1.1}}
},
{
"data": {"name": "lt"},
"transform": [{"filter": "datum.k == 'major'"}],
"mark": {"type": "rule", "color": "#333333", "strokeWidth": 1.5},
"encoding": {
"y": {"field": "t", "type": "quantitative", "scale": {"type": "log", "domain": [0.00036, 1.44], "nice": false}, "axis": null},
"x": {"datum": 0, "type": "quantitative", "scale": {"domain": [0, 100]}, "axis": null},
"x2": {"datum": 1.52}}
}
],
"resolve": {"scale": {"x": "independent"}, "axis": {"x": "independent", "y": "independent"}}
}
],
"resolve": {"legend": {"color": "independent"}, "scale": {"color": "independent"}}
}
